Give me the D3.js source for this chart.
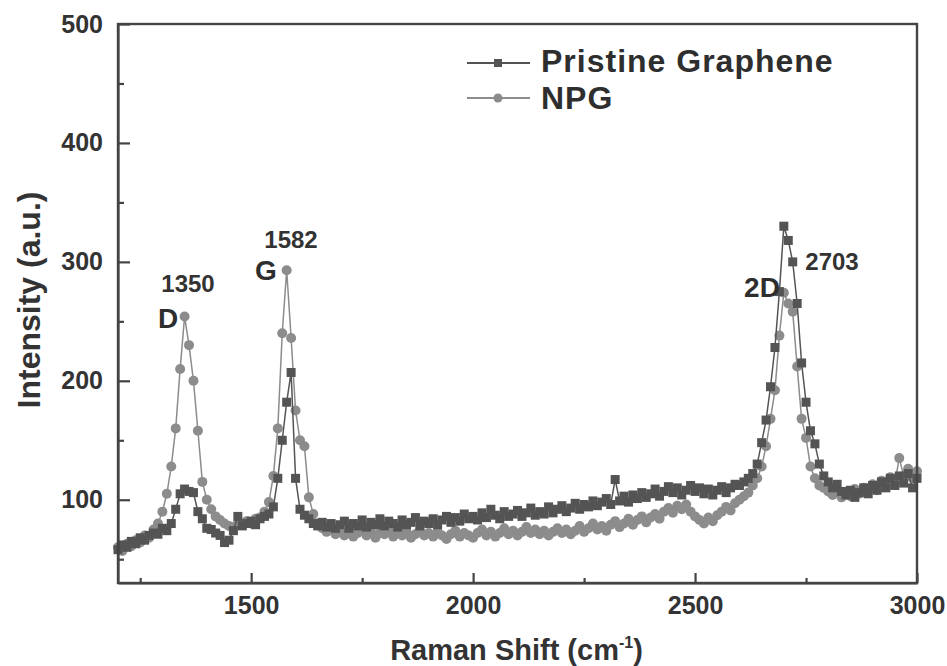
<!DOCTYPE html>
<html>
<head>
<meta charset="utf-8">
<script src="https://cdn.jsdelivr.net/npm/d3@7"></script>
<style>
  html, body { margin: 0; padding: 0; background: #fff; }
  svg { display: block; font-family: "Liberation Sans", Arial, sans-serif; }
</style>
</head>
<body>
<svg id="chart" width="947" height="666"></svg>
<script>
// Raman spectra, sampled every 10 cm^-1 from 1200 to 3000 cm^-1
const shiftStart = 1200;
const shiftStep = 10;

const pristineIntensity = [
  58, 62, 60, 65, 63, 68, 66, 70, 72, 71,
  76, 74, 80, 92, 105, 109, 107, 106, 90, 84,
  76, 75, 72, 70, 64, 66, 74, 86, 78, 80,
  82, 79, 84, 86, 88, 94, 118, 150, 182, 207,
  118, 92, 87, 84, 80, 78, 81, 77, 80, 76,
  79, 82, 76, 80, 78, 83, 77, 81, 79, 84,
  78, 82, 80, 77, 83, 79, 81, 85, 78, 82,
  80, 84, 79, 83, 86, 81, 85, 82, 88, 84,
  86, 83, 89, 85, 92, 87, 84, 90, 86, 88,
  91, 86, 89, 93, 87, 90, 88, 94, 89, 92,
  95, 90, 93, 97, 92, 96, 94, 99, 95, 98,
  101, 96, 117, 99, 103, 98, 104, 101, 106, 102,
  105, 109, 103, 107, 111, 106, 110, 104, 108, 112,
  107, 110, 105, 109, 104, 108, 111, 106, 110, 113,
  112, 115, 118, 122, 130, 148, 167, 195, 228, 275,
  330, 318, 300, 265, 215, 182, 158, 147, 130, 120,
  115, 110, 113, 107, 104, 108, 102, 106, 110, 105,
  112, 108, 115, 110, 118, 112, 120, 114, 122, 110,
  118
];

const npgIntensity = [
  60, 57, 63, 61, 66, 64, 70, 68, 75, 80,
  90, 105, 128, 160, 210, 254, 230, 200, 158, 115,
  100, 92, 86, 83, 80, 78, 77, 80, 79, 82,
  80, 84, 85, 90, 98, 120, 160, 240, 293, 236,
  175, 150, 145, 102, 88, 80, 76, 73, 75, 71,
  74, 70, 73, 69, 72, 75, 70, 73, 68, 72,
  71, 74, 69, 72, 70, 73, 68, 71, 74, 70,
  72, 69, 73, 70, 67, 71, 74, 69, 72, 70,
  68, 72, 75, 70, 73, 69, 72, 76, 71, 74,
  70, 73, 77, 72, 75, 71, 74, 70, 73, 76,
  72, 75, 71, 74, 78, 73, 76, 80, 75, 78,
  74, 79, 82, 77, 80, 84, 79, 83, 86, 81,
  85, 88, 84, 90, 93, 89, 95, 92, 96, 90,
  86, 83, 80, 85, 82, 87, 90, 94, 91, 97,
  100, 103, 106, 112, 118, 128, 145, 168, 192, 238,
  274, 265, 258, 212, 168, 152, 128, 118, 112, 110,
  107, 104, 108, 102, 106, 103, 109, 105, 110, 107,
  113, 108, 116, 111, 119, 114, 135, 120, 126, 118,
  124
];

const seriesNames = ["Pristine Graphene", "NPG"];

const xTicks = [1500, 2000, 2500, 3000];
const xMinorTicks = [1250, 1750, 2250, 2750];
const yTicks = [100, 200, 300, 400, 500];
const yMinorTicks = [50, 150, 250, 350, 450];

// Band annotations
const bandNames = ["D", "G", "2D"];
const bandShifts = [1350, 1582, 2703];

const svg = d3.select("#chart");
const margin = { left: 118, top: 24, right: 30, bottom: 83 };
const W = 947, H = 666;
const plotW = W - margin.left - margin.right;
const plotH = H - margin.top - margin.bottom;

const x = d3.scaleLinear().domain([1200, 3000]).range([0, plotW]);
const y = d3.scaleLinear().domain([30, 500]).range([plotH, 0]);

const g = svg.append("g").attr("transform", `translate(${margin.left},${margin.top})`);

const toPoints = arr => arr.map((v, i) => ({ s: shiftStart + i * shiftStep, v }));
const pristine = toPoints(pristineIntensity);
const npg = toPoints(npgIntensity);

const line = d3.line().x(d => x(d.s)).y(d => y(d.v));

const colPristine = "#545454";
const colNpg = "#8c8c8c";

const plot = g.append("g");

// NPG: circles
plot.append("path").datum(npg)
  .attr("fill", "none").attr("stroke", colNpg).attr("stroke-width", 1.5)
  .attr("d", line);
plot.append("g").selectAll("circle").data(npg).join("circle")
  .attr("cx", d => x(d.s)).attr("cy", d => y(d.v)).attr("r", 5)
  .attr("fill", colNpg);

// Pristine graphene: squares
plot.append("path").datum(pristine)
  .attr("fill", "none").attr("stroke", colPristine).attr("stroke-width", 1.5)
  .attr("d", line);
plot.append("g").selectAll("rect").data(pristine).join("rect")
  .attr("x", d => x(d.s) - 4.5).attr("y", d => y(d.v) - 4.5)
  .attr("width", 9).attr("height", 9)
  .attr("fill", colPristine);

// Axes with inward ticks
const axisColor = "#444";
const tickFont = "25px";
const fmt = d3.format("d");

const yAxis = g.append("g")
  .call(d3.axisLeft(y).tickValues(yTicks).tickFormat(fmt)
    .tickSize(-12).tickPadding(15).tickSizeOuter(0));
yAxis.append("g")
  .call(d3.axisLeft(y).tickValues(yMinorTicks).tickSize(-6).tickFormat("").tickSizeOuter(0))
  .select(".domain").remove();

const xAxis = g.append("g").attr("transform", `translate(0,${plotH})`)
  .call(d3.axisBottom(x).tickValues(xTicks).tickFormat(fmt)
    .tickSize(-10).tickPadding(13).tickSizeOuter(0));
xAxis.append("g")
  .call(d3.axisBottom(x).tickValues(xMinorTicks).tickSize(-5).tickFormat("").tickSizeOuter(0))
  .select(".domain").remove();

[yAxis, xAxis].forEach(a => {
  a.selectAll("path, line").attr("stroke", axisColor).attr("stroke-width", 2.2);
  a.selectAll("text").attr("fill", "#333").attr("font-size", tickFont)
    .attr("font-weight", "bold").attr("font-family", "Liberation Sans, Arial, sans-serif");
});

// Frame
g.append("rect").attr("x", 0).attr("y", 0).attr("width", plotW).attr("height", plotH)
  .attr("fill", "none").attr("stroke", axisColor).attr("stroke-width", 2.4);

// Axis titles
svg.append("text")
  .attr("x", margin.left + plotW / 2 - 1).attr("y", 660)
  .attr("text-anchor", "middle").attr("font-size", "29px").attr("font-weight", "bold")
  .attr("fill", "#333")
  .call(t => {
    t.append("tspan").text("Raman Shift (cm");
    t.append("tspan").attr("font-size", "16px").attr("dy", "-12").text("-1");
    t.append("tspan").attr("dy", "12").text(")");
  });

svg.append("text")
  .attr("transform", `translate(40,300) rotate(-90)`)
  .attr("text-anchor", "middle").attr("font-size", "32px").attr("font-weight", "bold")
  .attr("fill", "#333")
  .text("Intensity (a.u.)");

// Band labels: name and stated peak position
const namePos = [
  { cx: 168, base: 328 },
  { cx: 266, base: 280 },
  { cx: 762, base: 297 }
];
const valuePos = [
  { cx: 188, base: 292 },
  { cx: 291, base: 248 },
  { cx: 832, base: 270 }
];
bandNames.forEach((name, i) => {
  svg.append("text")
    .attr("x", namePos[i].cx).attr("y", namePos[i].base)
    .attr("text-anchor", "middle").attr("font-size", "28px").attr("font-weight", "bold")
    .attr("fill", "#2e2e2e")
    .text(name);
  svg.append("text")
    .attr("x", valuePos[i].cx).attr("y", valuePos[i].base)
    .attr("text-anchor", "middle").attr("font-size", "24px").attr("font-weight", "bold")
    .attr("fill", "#333")
    .text(bandShifts[i]);
});

// Legend
const legend = svg.append("g");
const legendRows = [
  { name: seriesNames[0], color: colPristine, shape: "square", cy: 63, base: 72 },
  { name: seriesNames[1], color: colNpg, shape: "circle", cy: 98, base: 109 }
];
legendRows.forEach(r => {
  legend.append("line").attr("x1", 467).attr("x2", 530).attr("y1", r.cy).attr("y2", r.cy)
    .attr("stroke", r.color).attr("stroke-width", 2);
  if (r.shape === "square") {
    legend.append("rect").attr("x", 494).attr("y", r.cy - 4).attr("width", 8).attr("height", 8)
      .attr("fill", r.color);
  } else {
    legend.append("circle").attr("cx", 498).attr("cy", r.cy).attr("r", 4.5).attr("fill", r.color);
  }
  legend.append("text").attr("x", 541).attr("y", r.base)
    .attr("font-size", "32px").attr("font-weight", "bold").attr("fill", "#2e2e2e")
    .attr("letter-spacing", "1px")
    .text(r.name);
});
</script>
</body>
</html>
